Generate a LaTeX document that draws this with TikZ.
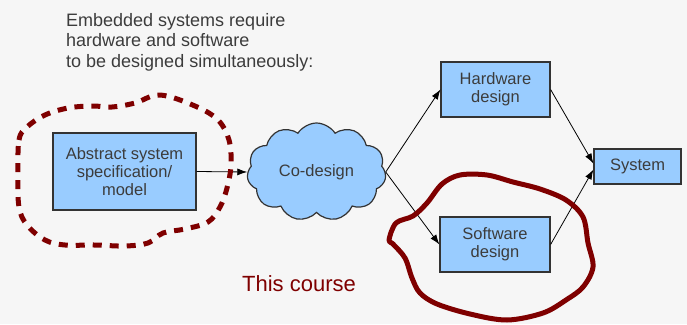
\documentclass[tikz,border=0pt]{standalone}
\usepackage{fontspec}
\setmainfont{Liberation Sans}
\usetikzlibrary{shapes.symbols,arrows.meta}
\definecolor{boxblue}{HTML}{99CCFF}
\definecolor{boxline}{HTML}{333333}
\definecolor{txtgray}{HTML}{3C3C3C}
\definecolor{maroon}{HTML}{7F0000}
\definecolor{bgpage}{HTML}{F6F6F6}
\tikzset{
  blockbox/.style={draw=boxline, line width=1.2pt, fill=boxblue, text=txtgray,
    align=center, inner sep=0pt, font=\fontsize{16.5}{18}\selectfont},
  flow/.style={draw=black, line width=0.8pt, -{Latex[length=10pt,width=7pt]}},
  ring/.style={draw=maroon, line width=5pt, line cap=butt, line join=round},
}
\begin{document}
\begin{tikzpicture}[x=1pt,y=-1pt]
\fill[bgpage] (0,0) rectangle (687,324);
\useasboundingbox (0,0) rectangle (687,324);

% heading (anchored on the baseline of its last line)
\node[anchor=base west, text=txtgray, align=left, inner sep=0pt,
      font=\fontsize{18}{20.5}\selectfont] (head) at (66,67)
  {Embedded systems require\\hardware and software\\to be designed simultaneously:};

% blocks
\node[blockbox, minimum width=143pt, minimum height=77pt] (spec) at (124.5,171.5)
  {Abstract system\\specification/\\model};
\node[blockbox, cloud, cloud puffs=11, cloud puff arc=115, aspect=1.45,
      minimum width=139pt, minimum height=98pt] (cod) at (316.5,172) {Co-design};
\node[blockbox, minimum width=109pt, minimum height=55pt] (hw) at (495.5,89.5)
  {Hardware\\design};
\node[blockbox, minimum width=110pt, minimum height=55pt] (sw) at (495,244.5)
  {Software\\design};
\node[blockbox, minimum width=87pt, minimum height=35pt] (sys) at (637.5,166.5)
  {System};

% connectors
\draw[flow] (spec.east) -- (cod.west);
\draw[flow] (cod.east) -- (hw.west);
\draw[flow] (cod.east) -- (sw.west);
\draw[flow] (hw.east) -- ([yshift=3pt]sys.west);
\draw[flow] (sw.east) -- ([yshift=-3pt]sys.west);

% dashed outline around the specification
\draw[ring, dash pattern=on 9pt off 8pt] plot[smooth cycle, tension=0.6] coordinates {
  (18,175) (19,140) (27,127) (45,115) (68,108) (92,106) (112,107) (135,103)
  (160,95) (195,106) (218,120) (229,140) (231,165) (227,188) (220,207)
  (208,222) (185,229) (163,233) (148,243) (125,246) (95,245) (65,245)
  (45,240) (27,225) (19,207)};

% solid outline around software design
\draw[ring] plot[smooth cycle, tension=0.55] coordinates {
  (389,240) (396,223) (413,216) (427,203) (442,184) (460,175) (487,175)
  (513,182) (540,189) (566,200) (583,217) (588,243) (593,267) (583,287)
  (566,300) (543,313) (507,320) (470,314) (437,304) (420,293) (412,278)
  (405,258) (393,244)};

\node[text=maroon, inner sep=0pt, font=\fontsize{22}{24}\selectfont] (course)
  at (299,284) {This course};
\end{tikzpicture}
\end{document}
